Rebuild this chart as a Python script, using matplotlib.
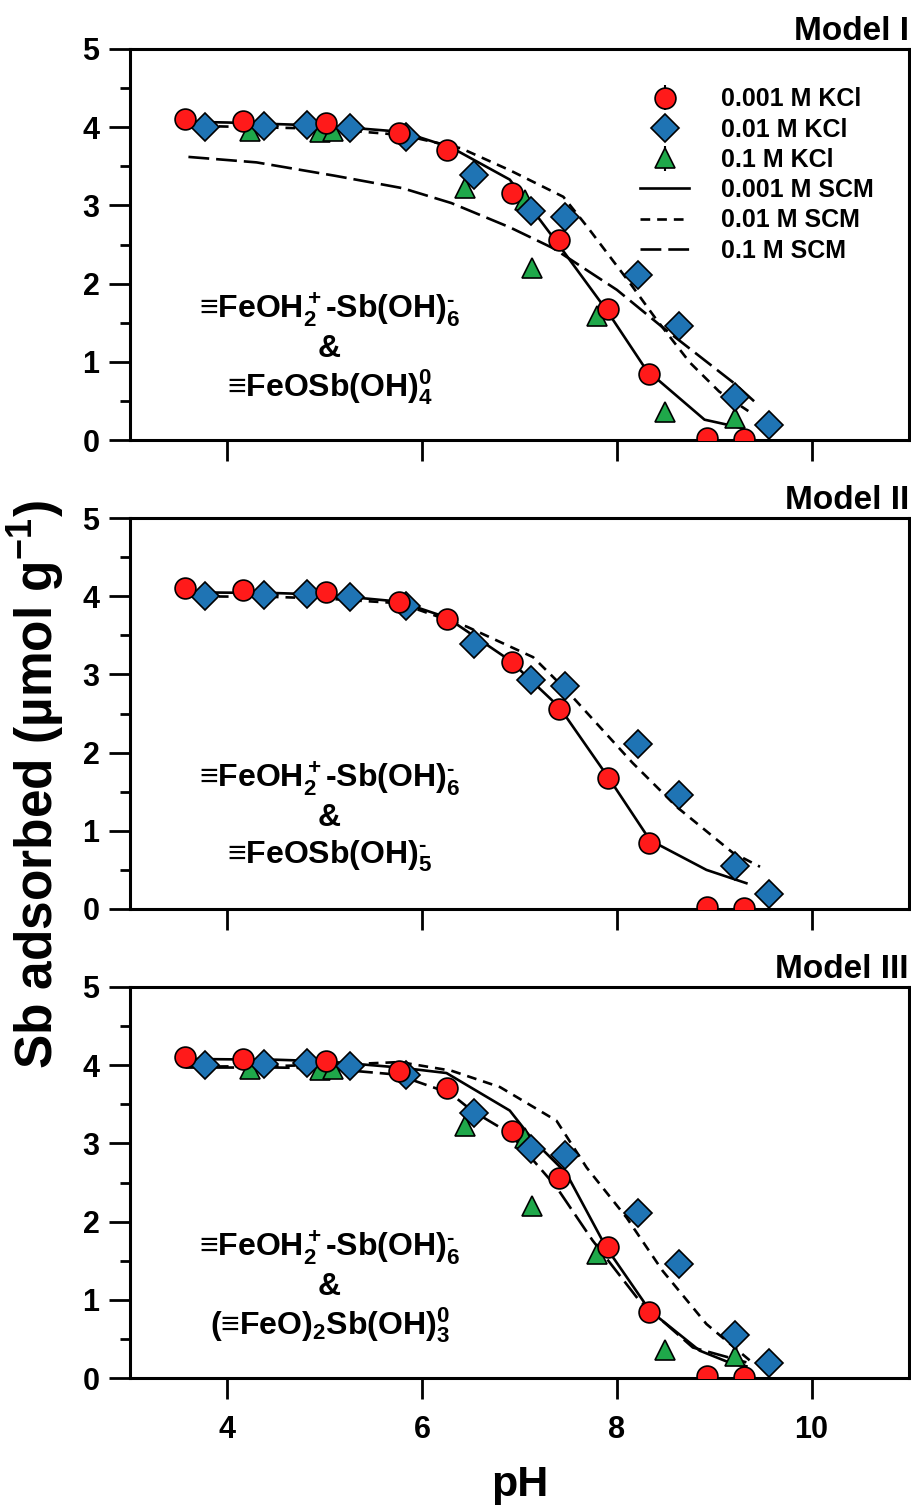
#!/usr/bin/env python3
"""Sb adsorption edges on ferrihydrite with three surface complexation models."""

import matplotlib

matplotlib.use("Agg")
import matplotlib.pyplot as plt
from matplotlib.lines import Line2D

plt.rcParams["font.family"] = ["Liberation Sans", "DejaVu Sans"]
plt.rcParams["font.weight"] = "bold"
plt.rcParams["mathtext.fontset"] = "custom"
plt.rcParams["mathtext.rm"] = "Liberation Sans:bold"
plt.rcParams["mathtext.bf"] = "Liberation Sans:bold"
plt.rcParams["mathtext.it"] = "Liberation Sans:bold"
plt.rcParams["mathtext.default"] = "regular"
plt.rcParams["lines.scale_dashes"] = False

# measured data (same in every panel)
ph_001 = [3.56, 4.16, 5.01, 5.76, 6.26, 6.92, 7.41, 7.91, 8.33, 8.93, 9.31]
sb_001 = [4.10, 4.08, 4.05, 3.93, 3.71, 3.16, 2.56, 1.67, 0.85, 0.02, 0.01]
ph_01 = [3.77, 4.38, 4.82, 5.26, 5.83, 6.53, 7.12, 7.47, 8.22, 8.64, 9.21, 9.56]
sb_01 = [4.00, 4.02, 4.03, 3.99, 3.88, 3.39, 2.93, 2.85, 2.11, 1.46, 0.55, 0.19]
ph_1 = [4.23, 4.95, 5.08, 6.44, 7.06, 7.13, 7.80, 8.49, 9.21]
sb_1 = [3.95, 3.94, 3.95, 3.22, 3.07, 2.20, 1.59, 0.36, 0.28]

# Model I SCM curves
m1_ph_001 = [3.57, 4.0, 5.0, 5.8, 6.3, 6.9, 7.4, 7.9, 8.3, 8.9, 9.3]
m1_sb_001 = [4.07, 4.06, 4.02, 3.94, 3.74, 3.33, 2.50, 1.65, 0.90, 0.26, 0.15]
m1_ph_01 = [3.57, 5.0, 5.8, 6.4, 6.9, 7.45, 7.7, 8.15, 8.4, 8.75, 9.05, 9.35]
m1_sb_01 = [4.02, 3.98, 3.90, 3.73, 3.45, 3.11, 2.72, 1.98, 1.55, 0.99, 0.62, 0.37]
m1_ph_1 = [3.6, 4.3, 5.1, 5.8, 6.3, 6.9, 7.35, 8.0, 8.5, 9.2, 9.45]
m1_sb_1 = [3.62, 3.55, 3.38, 3.22, 3.03, 2.72, 2.45, 1.92, 1.41, 0.73, 0.45]

# Model II SCM curves
m2_ph_001 = [3.57, 4.5, 5.0, 5.77, 6.25, 6.9, 7.41, 7.93, 8.34, 8.92, 9.33]
m2_sb_001 = [4.05, 4.04, 4.02, 3.93, 3.73, 3.18, 2.58, 1.65, 0.88, 0.50, 0.33]
m2_ph_01 = [3.57, 4.5, 5.0, 5.77, 6.46, 7.14, 7.48, 8.16, 8.62, 9.19, 9.47]
m2_sb_01 = [4.00, 3.99, 3.97, 3.91, 3.61, 3.22, 2.80, 1.87, 1.30, 0.72, 0.54]

# Model III SCM curves
m3_ph_001 = [3.57, 4.5, 5.0, 5.77, 6.25, 6.9, 7.14, 7.48, 7.89, 8.34, 8.85, 9.19, 9.33]
m3_sb_001 = [4.08, 4.07, 4.05, 3.97, 3.90, 3.42, 3.04, 2.62, 1.67, 0.86, 0.35, 0.18, 0.15]
m3_ph_01 = [3.57, 4.5, 5.2, 5.77, 6.3, 6.8, 7.38, 7.69, 8.1, 8.47, 8.92, 9.37]
m3_sb_01 = [3.98, 3.99, 4.01, 4.04, 3.93, 3.72, 3.29, 2.69, 2.05, 1.37, 0.69, 0.22]
m3_ph_1 = [3.57, 4.5, 5.0, 5.74, 6.29, 6.51, 6.9, 7.38, 7.75, 8.23, 8.78, 9.33]
m3_sb_1 = [3.97, 3.97, 3.96, 3.88, 3.64, 3.42, 3.13, 2.44, 1.76, 0.99, 0.39, 0.20]

RED = "#FF1A1A"
BLUE = "#1F74B4"
GREEN = "#1FA84A"
SHORT = (7, 5)
LONG = (15, 5)

line1 = r"≡FeOH$_2^+$-Sb(OH)$_6^{\text{-}}$"
panels = [
    ("Model I", [(m1_ph_001, m1_sb_001, None), (m1_ph_01, m1_sb_01, SHORT),
                 (m1_ph_1, m1_sb_1, LONG)], True, r"≡FeOSb(OH)$_4^0$"),
    ("Model II", [(m2_ph_001, m2_sb_001, None), (m2_ph_01, m2_sb_01, SHORT)],
     False, r"≡FeOSb(OH)$_5^{\text{-}}$"),
    ("Model III", [(m3_ph_001, m3_sb_001, None), (m3_ph_01, m3_sb_01, SHORT),
                   (m3_ph_1, m3_sb_1, LONG)], True, r"(≡FeO)$_2$Sb(OH)$_3^0$"),
]

fig = plt.figure(figsize=(9.12, 15.06), dpi=100)
left, width = 130 / 912, 779 / 912
tops = [49, 518, 987]
height_px = 391

axes = []
for (title, curves, show_kcl01, line3), top in zip(panels, tops):
    ax = fig.add_axes([left, 1 - (top + height_px) / 1506, width, height_px / 1506])
    axes.append(ax)
    for xs, ys, dash in curves:
        if dash is None:
            ax.plot(xs, ys, color="black", lw=1.9, zorder=2)
        else:
            ax.plot(xs, ys, color="black", lw=1.9, dashes=dash, zorder=2)
    mk = dict(markeredgecolor="black", markeredgewidth=1.2, linestyle="none")
    if show_kcl01:
        ax.plot(ph_1, sb_1, marker="^", ms=15, color=GREEN, zorder=3, **mk)
    ax.plot(ph_01, sb_01, marker="D", ms=14, color=BLUE, zorder=4, **mk)
    ax.plot(ph_001, sb_001, marker="o", ms=15, color=RED, zorder=5, **mk)

    ax.set_xlim(3, 11)
    ax.set_ylim(0, 5)
    ax.set_xticks([4, 6, 8, 10])
    ax.set_yticks([0, 1, 2, 3, 4, 5])
    ax.set_yticks([0.5, 1.5, 2.5, 3.5, 4.5], minor=True)
    ax.tick_params(axis="both", which="major", direction="out", width=2.0,
                   length=15, labelsize=22, pad=7)
    ax.tick_params(axis="x", which="major", pad=12)
    ax.tick_params(axis="y", which="minor", direction="out", width=2.0, length=7.5)
    for sp in ax.spines.values():
        sp.set_linewidth(2.2)
    for lab in ax.get_xticklabels() + ax.get_yticklabels():
        lab.set_fontweight("bold")
    ax.text(1.0, 1.045, title, transform=ax.transAxes, ha="right", va="center",
            fontsize=24, fontweight="bold")

    ax.text(5.05, 1.66, line1, ha="center", va="center", fontsize=23, fontweight="bold")
    ax.text(5.05, 1.16, "&", ha="center", va="center", fontsize=23, fontweight="bold")
    ax.text(5.05, 0.68, line3, ha="center", va="center", fontsize=23, fontweight="bold")

for ax in axes[:2]:
    ax.tick_params(axis="x", labelbottom=False)

axes[2].set_xlabel("pH", fontsize=31, fontweight="bold", labelpad=14)
fig.text(0.04, 1 - 785 / 1506, r"Sb adsorbed (µmol g$^{-1}$)", rotation=90,
         ha="center", va="center", fontsize=37, fontweight="bold")

# legend handles (errorbar-style markers like the original)
mk_leg = dict(markeredgecolor="black", markeredgewidth=1.2, linestyle="none")
h_red = axes[0].errorbar([], [], yerr=[], marker="o", ms=15, color=RED,
                         ecolor="black", elinewidth=1.5, **mk_leg)
h_blue = axes[0].errorbar([], [], yerr=[], marker="D", ms=14, color=BLUE,
                          ecolor="black", elinewidth=1.5, **mk_leg)
h_green = axes[0].errorbar([], [], yerr=[], marker="^", ms=15, color=GREEN,
                           ecolor="black", elinewidth=1.5, **mk_leg)
handles = [
    h_red, h_blue, h_green,
    Line2D([0], [0], color="black", lw=1.9),
    Line2D([0], [0], color="black", lw=1.9, dashes=SHORT),
    Line2D([0], [0], color="black", lw=1.9, dashes=LONG),
]
labels = ["0.001 M KCl", "0.01 M KCl", "0.1 M KCl",
          "0.001 M SCM", "0.01 M SCM", "0.1 M SCM"]
axes[0].legend(handles, labels, loc="upper left", bbox_to_anchor=(0.655, 0.902),
               frameon=False, prop={"size": 18, "weight": "bold"},
               handlelength=1.95, handletextpad=1.3, labelspacing=0.25,
               borderpad=0, borderaxespad=0)

fig.savefig("out.png", dpi=100)
